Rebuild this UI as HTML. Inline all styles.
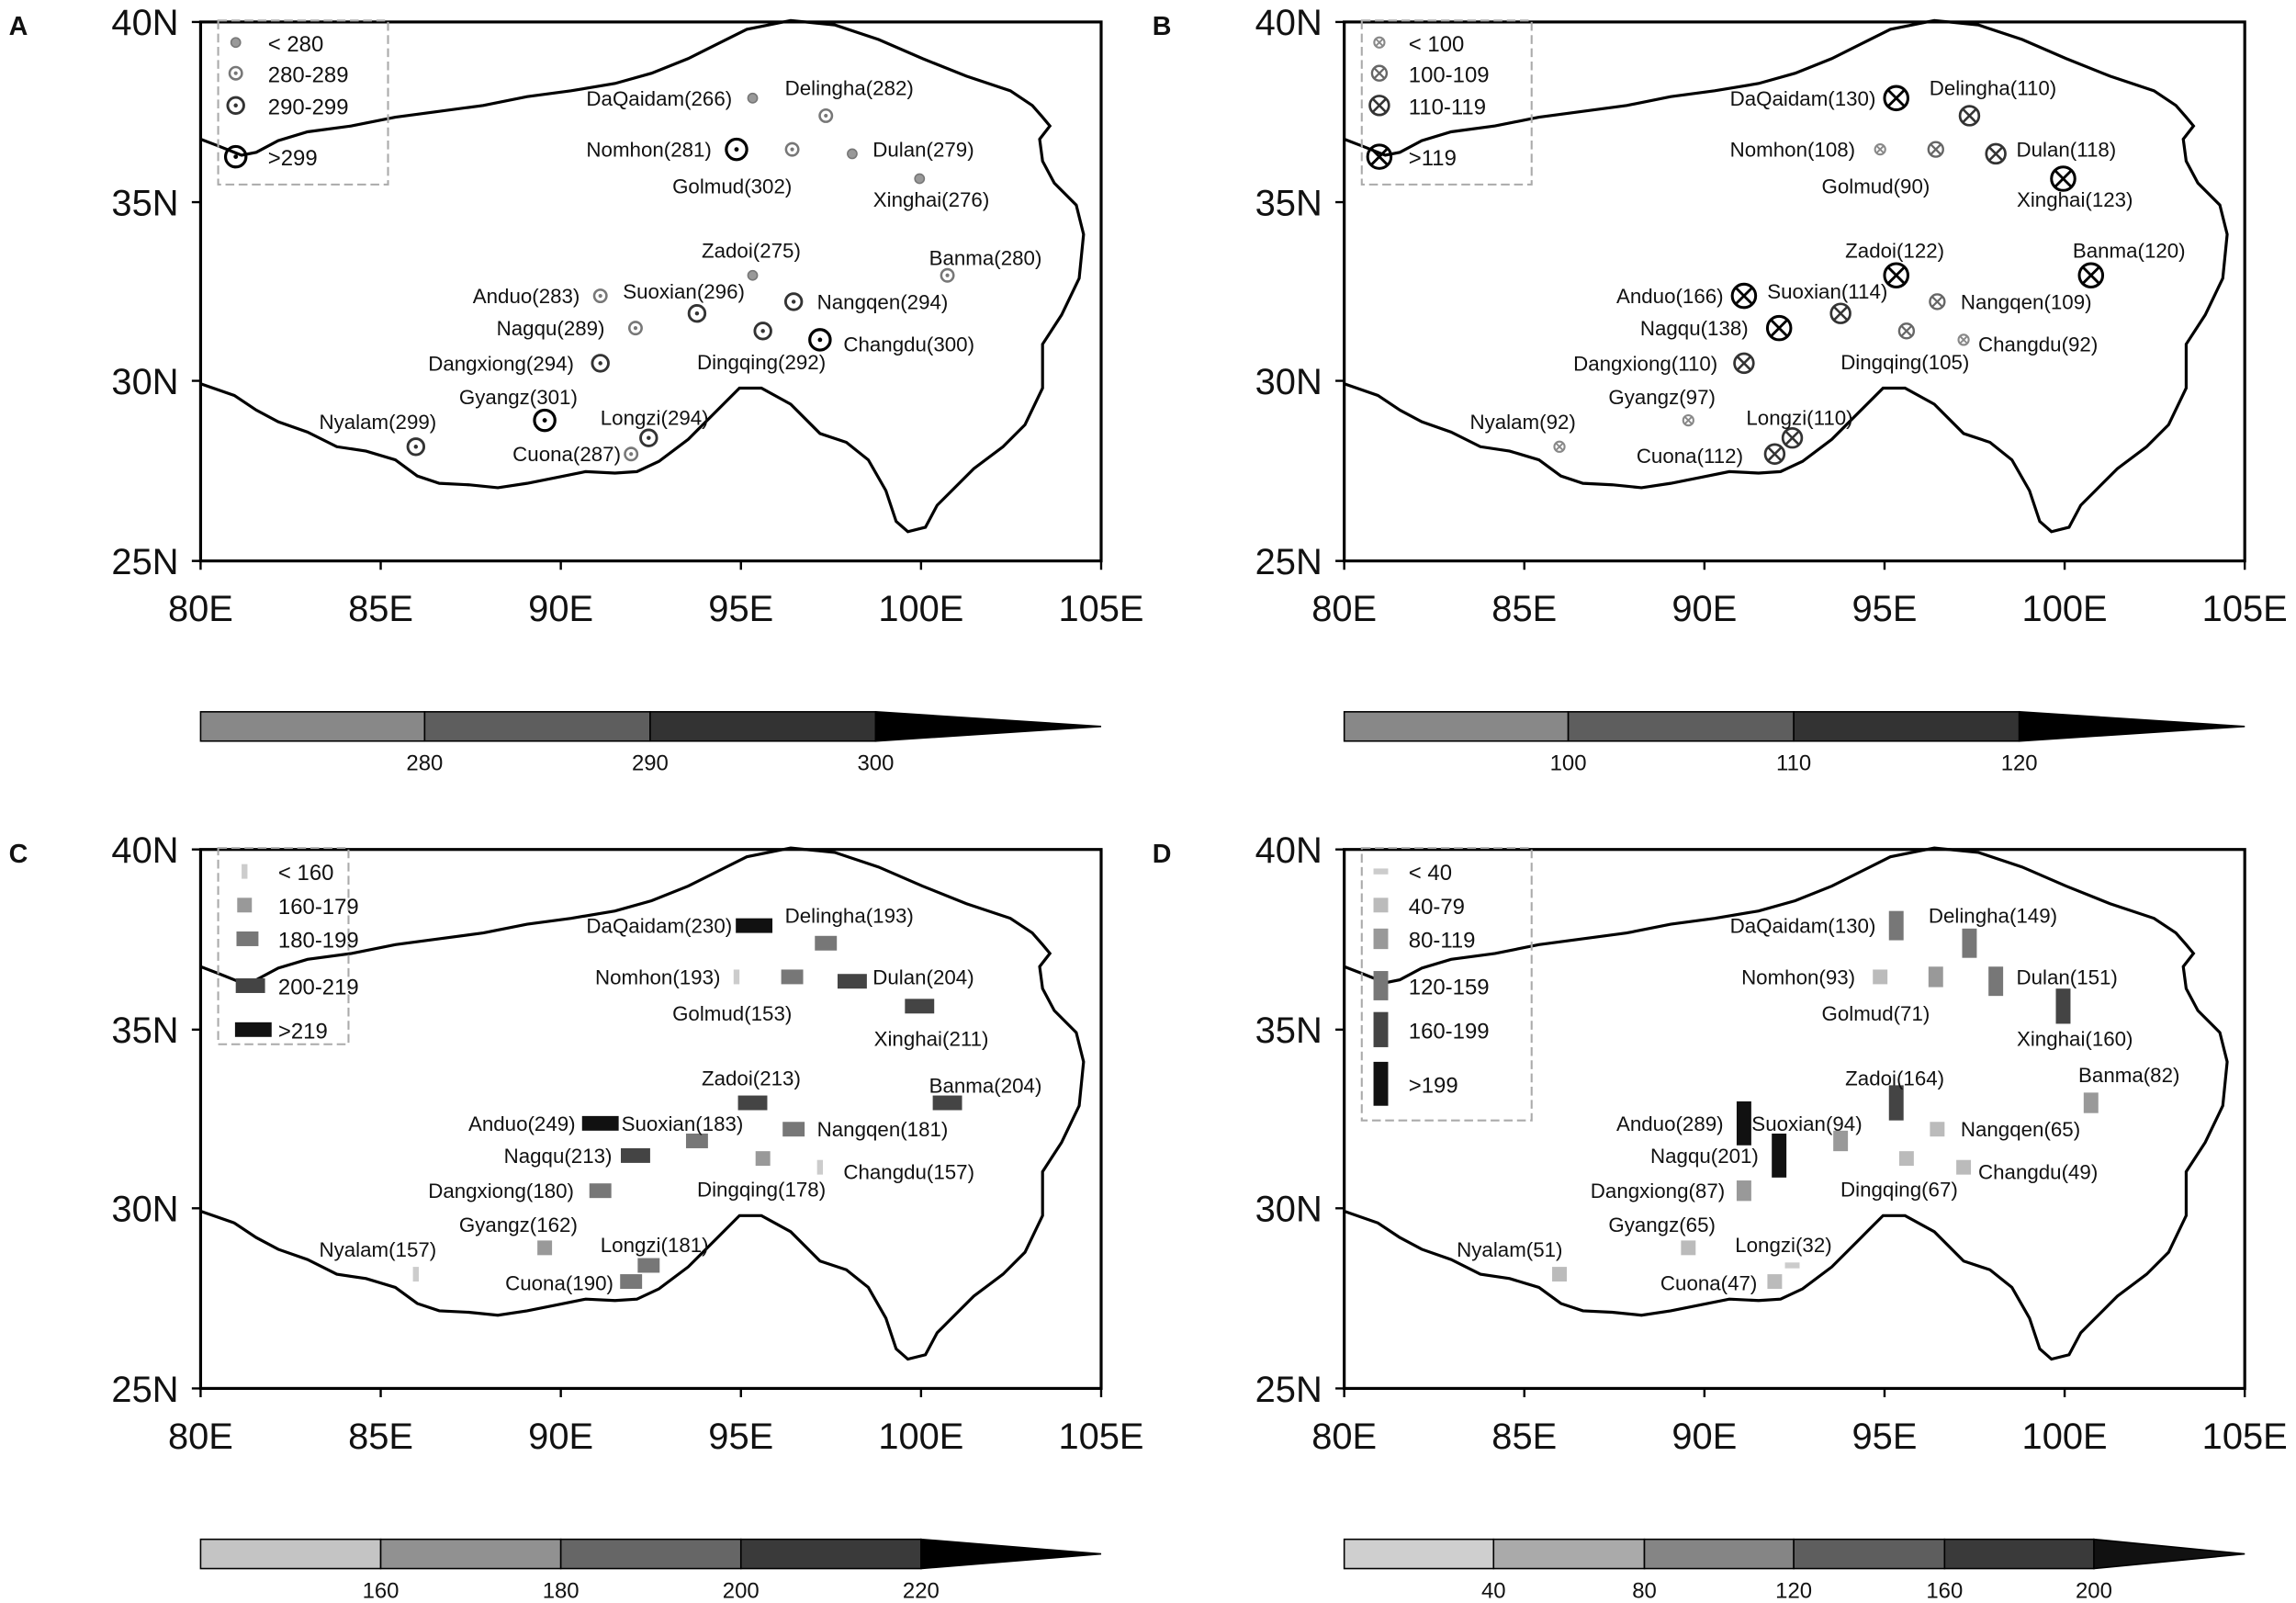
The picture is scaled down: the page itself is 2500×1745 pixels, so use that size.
<!DOCTYPE html>
<html><head><meta charset="utf-8"><style>
html,body{margin:0;padding:0;background:#fff}
svg{display:block}
text{font-family:"Liberation Sans",sans-serif;fill:#111}
.s{font-size:14px}
.ax{font-size:25px}
.cb{font-size:15px}
.lg{font-size:15px}
</style></head><body>
<svg width="2500" height="1745" viewBox="0 0 1568 1094.5" preserveAspectRatio="none" xmlns="http://www.w3.org/2000/svg">
<defs>
<path id="tp" fill="none" stroke="#000" stroke-width="2" d="M137,95 L150,100 165,106 175,104 190,96 210,90 240,86 270,80 300,76 330,72 360,66 390,62 420,57 445,50 470,40 490,30 510,20 540,14 570,17 600,27 630,40 660,52 690,62 705,72 712,80 717,86 710,95 712,110 720,125 735,140 740,160 737,190 725,215 712,235 712,265 700,290 685,305 665,320 650,335 640,345 632,360 620,363 612,356 605,335 593,314 578,302 560,296 540,276 520,265 505,265 490,280 470,300 450,315 435,322 420,323 400,322 380,326 360,330 340,333 320,331 300,330 285,325 270,314 250,308 230,305 210,295 190,288 175,280 160,270 137,262"/>
<g id="a0"><circle r="3.2" fill="#999" stroke="#777" stroke-width="1"/></g>
<g id="a1"><circle r="4.2" fill="none" stroke="#777" stroke-width="1.6"/><circle r="1.3" fill="#777"/></g>
<g id="a2"><circle r="5.5" fill="none" stroke="#333" stroke-width="1.8"/><circle r="1.4" fill="#333"/></g>
<g id="a3"><circle r="7" fill="none" stroke="#000" stroke-width="2"/><circle r="1.5" fill="#000"/></g>
<g id="b0"><circle r="3.5" fill="none" stroke="#888" stroke-width="1.3"/><path d="M-2.5,-2.5L2.5,2.5M-2.5,2.5L2.5,-2.5" stroke="#888" stroke-width="1.2"/></g>
<g id="b1"><circle r="5" fill="none" stroke="#666" stroke-width="1.5"/><path d="M-3.5,-3.5L3.5,3.5M-3.5,3.5L3.5,-3.5" stroke="#666" stroke-width="1.4"/></g>
<g id="b2"><circle r="6.5" fill="none" stroke="#333" stroke-width="1.7"/><path d="M-4.6,-4.6L4.6,4.6M-4.6,4.6L4.6,-4.6" stroke="#333" stroke-width="1.6"/></g>
<g id="b3"><circle r="8" fill="none" stroke="#000" stroke-width="1.9"/><path d="M-5.7,-5.7L5.7,5.7M-5.7,5.7L5.7,-5.7" stroke="#000" stroke-width="1.8"/></g>
<rect id="c0" x="-2" y="-5" width="4" height="10" fill="#ccc"/>
<rect id="c1" x="-5" y="-5" width="10" height="10" fill="#999"/>
<rect id="c2" x="-7.5" y="-5" width="15" height="10" fill="#777"/>
<rect id="c3" x="-10" y="-5" width="20" height="10" fill="#444"/>
<rect id="c4" x="-12.5" y="-5" width="25" height="10" fill="#111"/>
<rect id="d0" x="-5" y="-2" width="10" height="4" fill="#ccc"/>
<rect id="d1" x="-5" y="-5" width="10" height="10" fill="#bbb"/>
<rect id="d2" x="-5" y="-7" width="10" height="14" fill="#999"/>
<rect id="d3" x="-5" y="-10" width="10" height="20" fill="#777"/>
<rect id="d4" x="-5" y="-12" width="10" height="24" fill="#444"/>
<rect id="d5" x="-5" y="-15" width="10" height="30" fill="#111"/>
<g id="axes">
<rect x="137" y="15" width="615" height="368" fill="none" stroke="#000" stroke-width="2"/>
<use href="#tp"/>
<g stroke="#000" stroke-width="1.5">
<path d="M137,383v6M260,383v6M383,383v6M506,383v6M629,383v6M752,383v6M137,15h-6M137,138h-6M137,260h-6M137,383h-6"/>
</g>
<text class="ax" x="122" y="24" text-anchor="end">40N</text>
<text class="ax" x="122" y="147" text-anchor="end">35N</text>
<text class="ax" x="122" y="269" text-anchor="end">30N</text>
<text class="ax" x="122" y="392" text-anchor="end">25N</text>
<text class="ax" x="137" y="424" text-anchor="middle">80E</text>
<text class="ax" x="260" y="424" text-anchor="middle">85E</text>
<text class="ax" x="383" y="424" text-anchor="middle">90E</text>
<text class="ax" x="506" y="424" text-anchor="middle">95E</text>
<text class="ax" x="629" y="424" text-anchor="middle">100E</text>
<text class="ax" x="752" y="424" text-anchor="middle">105E</text>
</g>
</defs>

<!-- Panel A -->
<text x="6" y="24" style="font-size:18px;font-weight:bold">A</text>
<use href="#axes"/>
<rect x="149" y="14" width="116" height="112" fill="none" stroke="#aaa" stroke-dasharray="6,3" stroke-width="1.3"/>
<use href="#a0" x="161" y="29"/><text class="lg" x="183" y="35">&lt; 280</text>
<use href="#a1" x="161" y="50"/><text class="lg" x="183" y="56">280-289</text>
<use href="#a2" x="161" y="72"/><text class="lg" x="183" y="78">290-299</text>
<use href="#a3" x="161" y="107"/><text class="lg" x="183" y="113">&gt;299</text>
<use href="#a0" x="514" y="67"/><use href="#a1" x="564" y="79"/><use href="#a3" x="503" y="102"/><use href="#a1" x="541" y="102"/><use href="#a0" x="582" y="105"/><use href="#a0" x="628" y="122"/><use href="#a0" x="514" y="188"/><use href="#a1" x="647" y="188"/><use href="#a1" x="410" y="202"/><use href="#a2" x="476" y="214"/><use href="#a2" x="542" y="206"/><use href="#a1" x="434" y="224"/><use href="#a2" x="521" y="226"/><use href="#a3" x="560" y="232"/><use href="#a2" x="410" y="248"/><use href="#a3" x="372" y="287"/><use href="#a2" x="443" y="299"/><use href="#a1" x="431" y="310"/><use href="#a2" x="284" y="305"/>
<text class="s" x="500" y="72" text-anchor="end">DaQaidam(266)</text>
<text class="s" x="580" y="65" text-anchor="middle">Delingha(282)</text>
<text class="s" x="486" y="107" text-anchor="end">Nomhon(281)</text>
<text class="s" x="500" y="132" text-anchor="middle">Golmud(302)</text>
<text class="s" x="596" y="107">Dulan(279)</text>
<text class="s" x="636" y="141" text-anchor="middle">Xinghai(276)</text>
<text class="s" x="513" y="176" text-anchor="middle">Zadoi(275)</text>
<text class="s" x="673" y="181" text-anchor="middle">Banma(280)</text>
<text class="s" x="396" y="207" text-anchor="end">Anduo(283)</text>
<text class="s" x="467" y="204" text-anchor="middle">Suoxian(296)</text>
<text class="s" x="558" y="211">Nangqen(294)</text>
<text class="s" x="413" y="229" text-anchor="end">Nagqu(289)</text>
<text class="s" x="520" y="252" text-anchor="middle">Dingqing(292)</text>
<text class="s" x="576" y="240">Changdu(300)</text>
<text class="s" x="392" y="253" text-anchor="end">Dangxiong(294)</text>
<text class="s" x="354" y="276" text-anchor="middle">Gyangz(301)</text>
<text class="s" x="447" y="290" text-anchor="middle">Longzi(294)</text>
<text class="s" x="424" y="315" text-anchor="end">Cuona(287)</text>
<text class="s" x="258" y="293" text-anchor="middle">Nyalam(299)</text>
<g stroke="#000" stroke-width="1">
<rect x="137" y="486" width="153" height="20" fill="#888"/>
<rect x="290" y="486" width="154" height="20" fill="#5e5e5e"/>
<rect x="444" y="486" width="154" height="20" fill="#333"/>
<path d="M598,486 L752,496 L598,506Z" fill="#000"/>
</g>
<text class="cb" x="290" y="526" text-anchor="middle">280</text>
<text class="cb" x="444" y="526" text-anchor="middle">290</text>
<text class="cb" x="598" y="526" text-anchor="middle">300</text>

<!-- Panel B -->
<text x="787" y="24" style="font-size:18px;font-weight:bold">B</text>
<g transform="translate(781,0)">
<use href="#axes"/>
<rect x="149" y="14" width="116" height="112" fill="none" stroke="#aaa" stroke-dasharray="6,3" stroke-width="1.3"/>
<use href="#b0" x="161" y="29"/><text class="lg" x="181" y="35">&lt; 100</text>
<use href="#b1" x="161" y="50"/><text class="lg" x="181" y="56">100-109</text>
<use href="#b2" x="161" y="72"/><text class="lg" x="181" y="78">110-119</text>
<use href="#b3" x="161" y="107"/><text class="lg" x="181" y="113">&gt;119</text>
<use href="#b3" x="514" y="67"/><use href="#b2" x="564" y="79"/><use href="#b0" x="503" y="102"/><use href="#b1" x="541" y="102"/><use href="#b2" x="582" y="105"/><use href="#b3" x="628" y="122"/><use href="#b3" x="514" y="188"/><use href="#b3" x="647" y="188"/><use href="#b3" x="410" y="202"/><use href="#b2" x="476" y="214"/><use href="#b1" x="542" y="206"/><use href="#b3" x="434" y="224"/><use href="#b1" x="521" y="226"/><use href="#b0" x="560" y="232"/><use href="#b2" x="410" y="248"/><use href="#b0" x="372" y="287"/><use href="#b2" x="443" y="299"/><use href="#b2" x="431" y="310"/><use href="#b0" x="284" y="305"/>
<text class="s" x="500" y="72" text-anchor="end">DaQaidam(130)</text>
<text class="s" x="580" y="65" text-anchor="middle">Delingha(110)</text>
<text class="s" x="486" y="107" text-anchor="end">Nomhon(108)</text>
<text class="s" x="500" y="132" text-anchor="middle">Golmud(90)</text>
<text class="s" x="596" y="107">Dulan(118)</text>
<text class="s" x="636" y="141" text-anchor="middle">Xinghai(123)</text>
<text class="s" x="513" y="176" text-anchor="middle">Zadoi(122)</text>
<text class="s" x="673" y="176" text-anchor="middle">Banma(120)</text>
<text class="s" x="396" y="207" text-anchor="end">Anduo(166)</text>
<text class="s" x="467" y="204" text-anchor="middle">Suoxian(114)</text>
<text class="s" x="558" y="211">Nangqen(109)</text>
<text class="s" x="413" y="229" text-anchor="end">Nagqu(138)</text>
<text class="s" x="520" y="252" text-anchor="middle">Dingqing(105)</text>
<text class="s" x="570" y="240">Changdu(92)</text>
<text class="s" x="392" y="253" text-anchor="end">Dangxiong(110)</text>
<text class="s" x="354" y="276" text-anchor="middle">Gyangz(97)</text>
<text class="s" x="448" y="290" text-anchor="middle">Longzi(110)</text>
<text class="s" x="373" y="316" text-anchor="middle">Cuona(112)</text>
<text class="s" x="259" y="293" text-anchor="middle">Nyalam(92)</text>
<g stroke="#000" stroke-width="1">
<rect x="137" y="486" width="153" height="20" fill="#888"/>
<rect x="290" y="486" width="154" height="20" fill="#5e5e5e"/>
<rect x="444" y="486" width="154" height="20" fill="#333"/>
<path d="M598,486 L752,496 L598,506Z" fill="#000"/>
</g>
<text class="cb" x="290" y="526" text-anchor="middle">100</text>
<text class="cb" x="444" y="526" text-anchor="middle">110</text>
<text class="cb" x="598" y="526" text-anchor="middle">120</text>
</g>

<!-- Panel C -->
<text x="6" y="589" style="font-size:18px;font-weight:bold">C</text>
<g transform="translate(0,565)">
<use href="#axes"/>
<rect x="149" y="14" width="89" height="134" fill="none" stroke="#aaa" stroke-dasharray="6,3" stroke-width="1.3"/>
<use href="#c0" x="167" y="30"/><text class="lg" x="190" y="36">&lt; 160</text>
<use href="#c1" x="167" y="53"/><text class="lg" x="190" y="59">160-179</text>
<use href="#c2" x="169" y="76"/><text class="lg" x="190" y="82">180-199</text>
<use href="#c3" x="171" y="108"/><text class="lg" x="190" y="114">200-219</text>
<use href="#c4" x="173" y="138"/><text class="lg" x="190" y="144">&gt;219</text>
<use href="#c4" x="515" y="67"/><use href="#c2" x="564" y="79"/><use href="#c0" x="503" y="102"/><use href="#c2" x="541" y="102"/><use href="#c3" x="582" y="105"/><use href="#c3" x="628" y="122"/><use href="#c3" x="514" y="188"/><use href="#c3" x="647" y="188"/><use href="#c4" x="410" y="202"/><use href="#c2" x="476" y="214"/><use href="#c2" x="542" y="206"/><use href="#c3" x="434" y="224"/><use href="#c1" x="521" y="226"/><use href="#c0" x="560" y="232"/><use href="#c2" x="410" y="248"/><use href="#c1" x="372" y="287"/><use href="#c2" x="443" y="299"/><use href="#c2" x="431" y="310"/><use href="#c0" x="284" y="305"/>
<text class="s" x="500" y="72" text-anchor="end">DaQaidam(230)</text>
<text class="s" x="580" y="65" text-anchor="middle">Delingha(193)</text>
<text class="s" x="492" y="107" text-anchor="end">Nomhon(193)</text>
<text class="s" x="500" y="132" text-anchor="middle">Golmud(153)</text>
<text class="s" x="596" y="107">Dulan(204)</text>
<text class="s" x="636" y="149" text-anchor="middle">Xinghai(211)</text>
<text class="s" x="513" y="176" text-anchor="middle">Zadoi(213)</text>
<text class="s" x="673" y="181" text-anchor="middle">Banma(204)</text>
<text class="s" x="393" y="207" text-anchor="end">Anduo(249)</text>
<text class="s" x="466" y="207" text-anchor="middle">Suoxian(183)</text>
<text class="s" x="558" y="211">Nangqen(181)</text>
<text class="s" x="418" y="229" text-anchor="end">Nagqu(213)</text>
<text class="s" x="520" y="252" text-anchor="middle">Dingqing(178)</text>
<text class="s" x="576" y="240">Changdu(157)</text>
<text class="s" x="392" y="253" text-anchor="end">Dangxiong(180)</text>
<text class="s" x="354" y="276" text-anchor="middle">Gyangz(162)</text>
<text class="s" x="447" y="290" text-anchor="middle">Longzi(181)</text>
<text class="s" x="382" y="316" text-anchor="middle">Cuona(190)</text>
<text class="s" x="258" y="293" text-anchor="middle">Nyalam(157)</text>
<g stroke="#000" stroke-width="1">
<rect x="137" y="486" width="123" height="20" fill="#c4c4c4"/>
<rect x="260" y="486" width="123" height="20" fill="#919191"/>
<rect x="383" y="486" width="123" height="20" fill="#666"/>
<rect x="506" y="486" width="123" height="20" fill="#3a3a3a"/>
<path d="M629,486 L752,496 L629,506Z" fill="#000"/>
</g>
<text class="cb" x="260" y="526" text-anchor="middle">160</text>
<text class="cb" x="383" y="526" text-anchor="middle">180</text>
<text class="cb" x="506" y="526" text-anchor="middle">200</text>
<text class="cb" x="629" y="526" text-anchor="middle">220</text>
</g>

<!-- Panel D -->
<text x="787" y="589" style="font-size:18px;font-weight:bold">D</text>
<g transform="translate(781,565)">
<use href="#axes"/>
<rect x="149" y="14" width="116" height="186" fill="none" stroke="#aaa" stroke-dasharray="6,3" stroke-width="1.3"/>
<use href="#d0" x="162" y="30"/><text class="lg" x="181" y="36">&lt; 40</text>
<use href="#d1" x="162" y="53"/><text class="lg" x="181" y="59">40-79</text>
<use href="#d2" x="162" y="76"/><text class="lg" x="181" y="82">80-119</text>
<use href="#d3" x="162" y="108"/><text class="lg" x="181" y="114">120-159</text>
<use href="#d4" x="162" y="138"/><text class="lg" x="181" y="144">160-199</text>
<use href="#d5" x="162" y="175"/><text class="lg" x="181" y="181">&gt;199</text>
<use href="#d3" x="514" y="67"/><use href="#d3" x="564" y="79"/><use href="#d1" x="503" y="102"/><use href="#d2" x="541" y="102"/><use href="#d3" x="582" y="105"/><use href="#d4" x="628" y="122"/><use href="#d4" x="514" y="188"/><use href="#d2" x="647" y="188"/><use href="#d5" x="410" y="202"/><use href="#d2" x="476" y="214"/><use href="#d1" x="542" y="206"/><use href="#d5" x="434" y="224"/><use href="#d1" x="521" y="226"/><use href="#d1" x="560" y="232"/><use href="#d2" x="410" y="248"/><use href="#d1" x="372" y="287"/><use href="#d0" x="443" y="299"/><use href="#d1" x="431" y="310"/><use href="#d1" x="284" y="305"/>
<text class="s" x="500" y="72" text-anchor="end">DaQaidam(130)</text>
<text class="s" x="580" y="65" text-anchor="middle">Delingha(149)</text>
<text class="s" x="486" y="107" text-anchor="end">Nomhon(93)</text>
<text class="s" x="500" y="132" text-anchor="middle">Golmud(71)</text>
<text class="s" x="596" y="107">Dulan(151)</text>
<text class="s" x="636" y="149" text-anchor="middle">Xinghai(160)</text>
<text class="s" x="513" y="176" text-anchor="middle">Zadoi(164)</text>
<text class="s" x="673" y="174" text-anchor="middle">Banma(82)</text>
<text class="s" x="396" y="207" text-anchor="end">Anduo(289)</text>
<text class="s" x="453" y="207" text-anchor="middle">Suoxian(94)</text>
<text class="s" x="558" y="211">Nangqen(65)</text>
<text class="s" x="420" y="229" text-anchor="end">Nagqu(201)</text>
<text class="s" x="516" y="252" text-anchor="middle">Dingqing(67)</text>
<text class="s" x="570" y="240">Changdu(49)</text>
<text class="s" x="397" y="253" text-anchor="end">Dangxiong(87)</text>
<text class="s" x="354" y="276" text-anchor="middle">Gyangz(65)</text>
<text class="s" x="437" y="290" text-anchor="middle">Longzi(32)</text>
<text class="s" x="386" y="316" text-anchor="middle">Cuona(47)</text>
<text class="s" x="250" y="293" text-anchor="middle">Nyalam(51)</text>
<g stroke="#000" stroke-width="1">
<rect x="137" y="486" width="102" height="20" fill="#cfcfcf"/>
<rect x="239" y="486" width="103" height="20" fill="#aaa"/>
<rect x="342" y="486" width="102" height="20" fill="#858585"/>
<rect x="444" y="486" width="103" height="20" fill="#5e5e5e"/>
<rect x="547" y="486" width="102" height="20" fill="#3a3a3a"/>
<path d="M649,486 L752,496 L649,506Z" fill="#111"/>
</g>
<text class="cb" x="239" y="526" text-anchor="middle">40</text>
<text class="cb" x="342" y="526" text-anchor="middle">80</text>
<text class="cb" x="444" y="526" text-anchor="middle">120</text>
<text class="cb" x="547" y="526" text-anchor="middle">160</text>
<text class="cb" x="649" y="526" text-anchor="middle">200</text>
</g>
</svg>
</body></html>
